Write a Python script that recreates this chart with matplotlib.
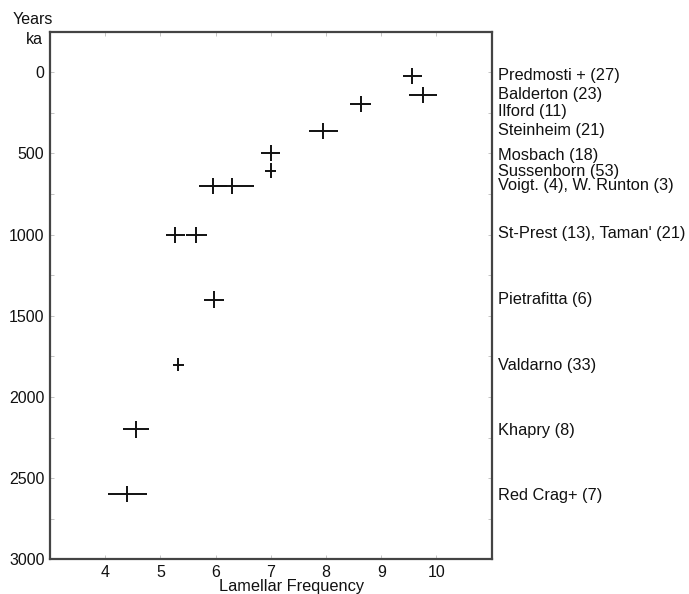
import matplotlib
matplotlib.use("Agg")
import matplotlib.pyplot as plt
from matplotlib.ticker import MultipleLocator

plt.rcParams['font.family'] = ['Liberation Sans', 'DejaVu Sans']

# Data: lamellar frequency (x) vs age in ka (y)
sites = ["Predmosti", "Balderton", "Ilford", "Steinheim", "Mosbach", "Sussenborn",
         "Voigt.", "W. Runton", "St-Prest", "Taman'", "Pietrafitta", "Valdarno",
         "Khapry", "Red Crag"]
freq = [9.56, 9.76, 8.63, 7.95, 7.0, 7.0, 5.95, 6.3, 5.27, 5.65, 5.97, 5.32, 4.56, 4.40]
freq_err = [0.17, 0.25, 0.19, 0.26, 0.17, 0.1, 0.25, 0.4, 0.17, 0.19, 0.18, 0.1, 0.24, 0.35]
age = [25, 140, 195, 360, 495, 605, 700, 700, 1000, 1000, 1400, 1800, 2200, 2600]
age_err = [50, 50, 50, 50, 50, 45, 50, 50, 50, 50, 50, 40, 50, 50]

labels = ["Predmosti + (27)", "Balderton (23)", "Ilford (11)", "Steinheim (21)",
          "Mosbach (18)", "Sussenborn (53)", "Voigt. (4), W. Runton (3)",
          "St-Prest (13), Taman' (21)", "Pietrafitta (6)", "Valdarno (33)",
          "Khapry (8)", "Red Crag+ (7)"]
label_age = [20, 135, 240, 357, 510, 608, 696, 995, 1400, 1805, 2205, 2605]

x_ticks = [4, 5, 6, 7, 8, 9, 10]
y_ticks = [0, 500, 1000, 1500, 2000, 2500, 3000]

fig = plt.figure(figsize=(6.89, 5.94), dpi=100)
ax = fig.add_axes([0.0726, 0.0584, 0.641, 0.8882])

ax.errorbar(freq, age, xerr=freq_err, yerr=age_err, fmt='none',
            ecolor='#111111', elinewidth=1.4, capsize=0)

ax.set_xlim(3, 11)
ax.set_ylim(3000, -250)
ax.set_xticks(x_ticks)
ax.set_yticks(y_ticks)
ax.yaxis.set_minor_locator(MultipleLocator(250))
ax.tick_params(which='both', direction='in', length=3, width=0.6, color='#bbbbbb',
               top=True, right=True, labelsize=11.5, labelcolor='#111111', pad=4)
for s in ax.spines.values():
    s.set_linewidth(1.6)
    s.set_color('#444444')

for lab, y in zip(labels, label_age):
    ax.text(11.12, y, lab, fontsize=11.8, color='#111111', va='center', ha='left',
            transform=ax.transData, clip_on=False)

fig.text(53 / 689, 1 - 19 / 594, "Years", fontsize=11.5, ha='right', va='center', color='#111111')
fig.text(43 / 689, 1 - 39 / 594, "ka", fontsize=11.5, ha='right', va='center', color='#111111')
fig.text(292 / 689, 1 - 587 / 594, "Lamellar Frequency", fontsize=11.8, ha='center', va='center',
         color='#111111')

fig.savefig("out.png", dpi=100, facecolor='white')
